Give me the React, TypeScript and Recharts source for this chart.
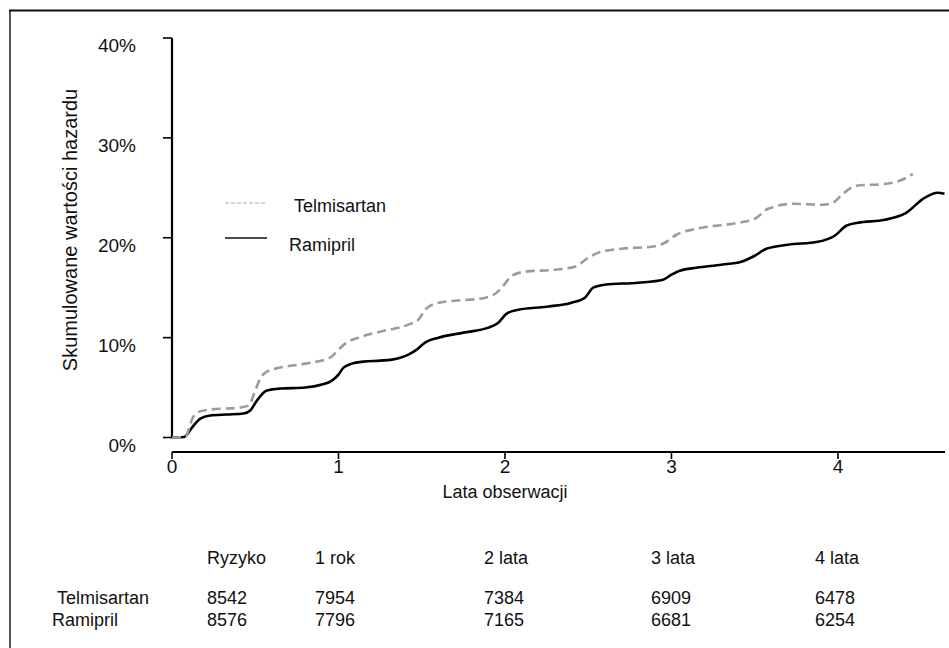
import React from 'react';
import { LineChart, Line, XAxis, YAxis, ReferenceLine } from 'recharts';

const telmisartanYears = [0, 0.08, 0.1, 0.12, 0.15, 0.23, 0.41, 0.46, 0.5, 0.53, 0.57, 0.65, 0.8, 0.95, 1.0, 1.04, 1.12, 1.25, 1.42, 1.48, 1.52, 1.58, 1.7, 1.85, 1.95, 2.0, 2.04, 2.12, 2.3, 2.42, 2.5, 2.56, 2.7, 2.88, 2.96, 3.03, 3.15, 3.4, 3.5, 3.58, 3.73, 3.91, 3.97, 4.03, 4.11, 4.29, 4.41, 4.45];
const telmisartanRisk = [0, 0.05, 0.8, 1.8, 2.5, 2.8, 3.0, 3.2, 4.7, 5.9, 6.6, 7.0, 7.4, 8.0, 8.8, 9.4, 10.0, 10.6, 11.3, 11.8, 12.8, 13.4, 13.7, 13.9, 14.5, 15.4, 16.2, 16.6, 16.8, 17.1, 18.0, 18.5, 18.9, 19.1, 19.5, 20.3, 20.9, 21.5, 21.9, 22.9, 23.4, 23.3, 23.5, 24.4, 25.2, 25.4, 26.0, 26.4];

const ramiprilYears = [0, 0.07, 0.12, 0.17, 0.23, 0.33, 0.43, 0.47, 0.51, 0.57, 0.65, 0.8, 0.9, 0.96, 1.0, 1.03, 1.08, 1.15, 1.25, 1.32, 1.42, 1.47, 1.52, 1.6, 1.75, 1.9, 1.96, 2.01, 2.08, 2.25, 2.4, 2.48, 2.53, 2.6, 2.8, 2.95, 3.0, 3.05, 3.15, 3.3, 3.42, 3.5, 3.57, 3.7, 3.88, 3.98, 4.05, 4.12, 4.28, 4.41, 4.52, 4.6, 4.64];
const ramiprilRisk = [0, 0.05, 1.0, 1.9, 2.2, 2.3, 2.4, 2.7, 3.7, 4.7, 4.9, 5.0, 5.3, 5.7, 6.3, 7.0, 7.4, 7.6, 7.7, 7.8, 8.3, 8.8, 9.5, 10.0, 10.5, 11.0, 11.5, 12.4, 12.8, 13.1, 13.5, 14.0, 15.0, 15.3, 15.5, 15.8, 16.3, 16.7, 17.0, 17.3, 17.6, 18.2, 18.9, 19.3, 19.6, 20.2, 21.2, 21.5, 21.8, 22.5, 24.0, 24.5, 24.4];

const seriesNames = ['Telmisartan', 'Ramipril'];
const xTicks = [0, 1, 2, 3, 4];
const yTicks = [0, 10, 20, 30, 40];
const xTitle = 'Lata obserwacji';
const yTitle = 'Skumulowane wartości hazardu';

const riskHeaders = ['Ryzyko', '1 rok', '2 lata', '3 lata', '4 lata'];
const telmisartanAtRisk = [8542, 7954, 7384, 6909, 6478];
const ramiprilAtRisk = [8576, 7796, 7165, 6681, 6254];

const telData = telmisartanYears.map((t, i) => ({ t, v: telmisartanRisk[i] }));
const ramData = ramiprilYears.map((t, i) => ({ t, v: ramiprilRisk[i] }));

const FONT = "'Liberation Sans', Arial, Helvetica, sans-serif";
const TEXT = '#111';

const YTick = (props: any) => {
  const { y, payload } = props;
  return (
    <text x={136} y={y + 14} textAnchor="end" fontSize={19} fontFamily={FONT} fill={TEXT}>
      {payload.value}%
    </text>
  );
};

const XTick = (props: any) => {
  const { x, y, payload } = props;
  return (
    <text x={x} y={y + 12} textAnchor="middle" fontSize={19} fontFamily={FONT} fill={TEXT}>
      {payload.value}
    </text>
  );
};

const colX = [207, 315, 484, 651, 815];
const rowNameX = [57, 52];

export default function App() {
  return (
    <div style={{ position: 'absolute', left: 0, top: 0, width: 949, height: 648, background: '#fff' }}>
      <LineChart width={949} height={648} margin={{ top: 38, right: 4, left: 112, bottom: 166 }}>
        <XAxis
          type="number"
          dataKey="t"
          domain={[0, 4.643]}
          ticks={xTicks}
          interval={0}
          allowDataOverflow
          axisLine={{ stroke: '#000', strokeWidth: 2.2 }}
          tickLine={{ stroke: '#000', strokeWidth: 1.6 }}
          tickSize={7}
          height={30}
          tick={<XTick />}
        />
        <YAxis
          type="number"
          domain={[-1.45, 40]}
          ticks={yTicks}
          interval={0}
          allowDataOverflow
          axisLine={false}
          tickLine={{ stroke: '#000', strokeWidth: 1.6 }}
          tickSize={9}
          width={60}
          tick={<YTick />}
        />
        <ReferenceLine
          segment={[{ x: 0, y: 0 }, { x: 0, y: 40 }]}
          stroke="#000"
          strokeWidth={2.2}
          ifOverflow="visible"
        />
        <Line
          data={ramData}
          dataKey="v"
          name={seriesNames[1]}
          type="monotone"
          stroke="#000"
          strokeWidth={2.6}
          dot={false}
          isAnimationActive={false}
        />
        <Line
          data={telData}
          dataKey="v"
          name={seriesNames[0]}
          type="monotone"
          stroke="#9c9c9c"
          strokeWidth={2.6}
          strokeDasharray="9 5"
          dot={false}
          isAnimationActive={false}
        />
      </LineChart>
      <svg
        width={949}
        height={648}
        style={{ position: 'absolute', left: 0, top: 0, pointerEvents: 'none' }}
        fontFamily={FONT}
      >
        <line x1={10} y1={10} x2={10} y2={648} stroke="#555" strokeWidth={2} />
        <line x1={9} y1={10.5} x2={949} y2={10.5} stroke="#111" strokeWidth={2} />
        <text x={77} y={230} transform="rotate(-90 77 230)" textAnchor="middle" fontSize={20} fill={TEXT}>
          {yTitle}
        </text>
        <text x={505} y={498} textAnchor="middle" fontSize={18} fill={TEXT}>
          {xTitle}
        </text>
        <line x1={225} y1={203} x2={267} y2={203} stroke="#aaa" strokeWidth={1.2} strokeDasharray="4 2" />
        <text x={294} y={212} fontSize={18} fill={TEXT}>{seriesNames[0]}</text>
        <line x1={225} y1={238} x2={267} y2={238} stroke="#111" strokeWidth={1.3} />
        <text x={289} y={251} fontSize={18} fill={TEXT}>{seriesNames[1]}</text>
        {riskHeaders.map((h, i) => (
          <text key={'h' + i} x={colX[i]} y={564} fontSize={18} fill={TEXT}>{h}</text>
        ))}
        <text x={rowNameX[0]} y={604} fontSize={18} fill={TEXT}>{seriesNames[0]}</text>
        <text x={rowNameX[1]} y={626} fontSize={18} fill={TEXT}>{seriesNames[1]}</text>
        {telmisartanAtRisk.map((n, i) => (
          <text key={'t' + i} x={colX[i]} y={604} fontSize={18} fill={TEXT}>{n}</text>
        ))}
        {ramiprilAtRisk.map((n, i) => (
          <text key={'r' + i} x={colX[i]} y={626} fontSize={18} fill={TEXT}>{n}</text>
        ))}
      </svg>
    </div>
  );
}
